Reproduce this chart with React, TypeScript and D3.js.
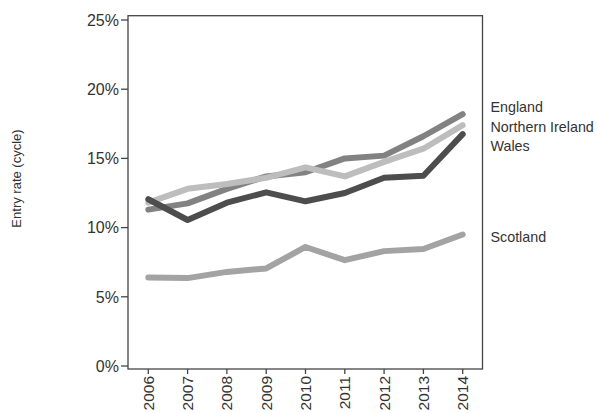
import React from "react";
import * as d3 from "d3";

const years = [2006, 2007, 2008, 2009, 2010, 2011, 2012, 2013, 2014];
const england = [11.3, 11.75, 12.8, 13.7, 14.0, 15.0, 15.2, 16.6, 18.2];
const northernIreland = [11.8, 12.8, 13.15, 13.6, 14.35, 13.7, 14.75, 15.7, 17.4];
const wales = [12.05, 10.55, 11.8, 12.55, 11.9, 12.5, 13.6, 13.75, 16.75];
const scotland = [6.4, 6.35, 6.8, 7.05, 8.6, 7.65, 8.3, 8.45, 9.5];
const yTicks = [0, 5, 10, 15, 20, 25];

const seriesNames = ["Scotland", "England", "Northern Ireland", "Wales"];
const seriesValues = [scotland, england, northernIreland, wales];
const seriesColors = ["#a3a3a3", "#828282", "#bdbdbd", "#4d4d4d"];
const labelY = [237, 106.5, 126.5, 146];

export default function App() {
  const W = 597, H = 413;
  const left = 128, right = 482.5, top = 15.7, bottom = 369;
  const x = d3.scalePoint<number>().domain(years).range([148.3, 462.7]);
  const y = d3.scaleLinear().domain([0, 25]).range([366, 20]);
  const line = d3.line<number>()
    .x((_, i) => x(years[i]) as number)
    .y((d) => y(d));
  const font = "Liberation Sans, Arial, sans-serif";
  const textColor = "#333";
  return (
    <svg width={W} height={H} style={{ position: "absolute", left: 0, top: 0, background: "#fff" }}>
      <rect x={left} y={top} width={right - left} height={bottom - top} fill="none" stroke="#444" strokeWidth={1.3} />
      {yTicks.map((t) => (
        <g key={t}>
          <line x1={left - 7} x2={left} y1={y(t)} y2={y(t)} stroke="#444" strokeWidth={1.3} />
          <text x={left - 9} y={y(t)} dy="0.36em" textAnchor="end" fontFamily={font} fontSize={16} fill={textColor}>{t}%</text>
        </g>
      ))}
      {years.map((yr) => (
        <g key={yr}>
          <line x1={x(yr)} x2={x(yr)} y1={bottom} y2={bottom + 5} stroke="#444" strokeWidth={1.3} />
          <text transform={`translate(${x(yr)},${bottom + 7}) rotate(-90)`} dy="0.36em" textAnchor="end" fontFamily={font} fontSize={15.5} fill={textColor}>{yr}</text>
        </g>
      ))}
      <text transform={`translate(16,178.5) rotate(-90)`} dy="0.36em" textAnchor="middle" fontFamily={font} fontSize={13} fill={textColor}>Entry rate (cycle)</text>
      {seriesValues.map((vals, i) => (
        <path key={seriesNames[i]} d={line(vals) || ""} fill="none" stroke={seriesColors[i]} strokeWidth={6} strokeLinejoin="round" strokeLinecap="round" />
      ))}
      {seriesNames.map((n, i) => (
        <text key={n} x={490.5} y={labelY[i]} dy="0.36em" fontFamily={font} fontSize={14.3} fill={textColor}>{n}</text>
      ))}
    </svg>
  );
}
